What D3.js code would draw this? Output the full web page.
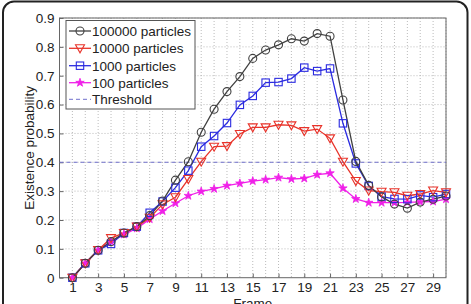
<!DOCTYPE html>
<html><head><meta charset="utf-8">
<script src="https://cdn.jsdelivr.net/npm/d3@7"></script>
<style>body{margin:0;background:#fff}svg{display:block;font-family:Arial,"Liberation Sans",sans-serif}</style>
</head><body><svg id="c" width="471" height="304"></svg>
<script>
const frames = d3.range(1, 31);
const p100000 = [0,0.05,0.095,0.125,0.155,0.177,0.215,0.266,0.338,0.402,0.504,0.584,0.645,0.697,0.760,0.789,0.807,0.828,0.820,0.846,0.837,0.616,0.403,0.320,0.280,0.255,0.241,0.262,0.272,0.283];
const p10000  = [0,0.05,0.096,0.137,0.155,0.177,0.208,0.254,0.279,0.342,0.402,0.454,0.456,0.498,0.521,0.521,0.530,0.528,0.508,0.515,0.483,0.402,0.335,0.302,0.298,0.296,0.284,0.290,0.302,0.296];
const p1000   = [0,0.05,0.095,0.117,0.155,0.177,0.225,0.264,0.312,0.371,0.454,0.491,0.536,0.599,0.630,0.676,0.678,0.690,0.728,0.716,0.725,0.535,0.396,0.318,0.281,0.273,0.272,0.285,0.279,0.290];
const p100    = [0,0.05,0.095,0.125,0.150,0.171,0.203,0.231,0.258,0.284,0.299,0.308,0.319,0.327,0.335,0.340,0.347,0.342,0.344,0.357,0.362,0.310,0.273,0.260,0.260,0.260,0.261,0.263,0.264,0.272];
const threshold = 0.4;
const seriesNames = ["100000 particles","10000 particles","1000 particles","100 particles"];
const xTicks = d3.range(1, 30, 2);
const yTicks = d3.range(0, 0.91, 0.1);

const svg = d3.select("#c");
const L = 59.5, R = 446, T = 18, B = 277.7;
const x = d3.scaleLinear().domain([0, 30]).range([L, R]);
const y = d3.scaleLinear().domain([0, 0.9]).range([B, T]);

svg.append("rect").attr("x",3).attr("y",1.5).attr("width",464.5).attr("height",320).attr("rx",11)
  .attr("fill","#fff").attr("stroke","#222").attr("stroke-width",2);

// grid
const g = svg.append("g");
g.selectAll(".vg").data(frames).enter().append("line")
  .attr("x1",d=>x(d)).attr("x2",d=>x(d)).attr("y1",T).attr("y2",B)
  .attr("stroke","#aaa").attr("stroke-width",0.8).attr("stroke-dasharray","1,2");
g.selectAll(".hg").data(yTicks.slice(1)).enter().append("line")
  .attr("x1",L).attr("x2",R).attr("y1",d=>y(d)).attr("y2",d=>y(d))
  .attr("stroke","#aaa").attr("stroke-width",0.8).attr("stroke-dasharray","1,2");

// axes
const xa = svg.append("g").attr("transform",`translate(0,${B})`)
  .call(d3.axisBottom(x).tickValues(xTicks).tickSize(-4).tickPadding(5).tickFormat(d3.format("d")));
const ya = svg.append("g").attr("transform",`translate(${L},0)`)
  .call(d3.axisLeft(y).tickValues(yTicks).tickSize(-4).tickPadding(5).tickFormat(d=>d===0?"0":d3.format(".1f")(d)));
[xa, ya].forEach(a=>{
  a.select(".domain").remove();
  a.selectAll("line").attr("stroke","#666");
  a.selectAll("text").attr("font-size",13.5).attr("fill","#222").attr("font-family","Arial,'Liberation Sans',sans-serif");
});
svg.append("rect").attr("x",L).attr("y",T).attr("width",R-L).attr("height",B-T)
  .attr("fill","none").attr("stroke","#666").attr("stroke-width",1);

svg.append("text").attr("transform",`translate(34,${(T+B)/2}) rotate(-90)`).attr("text-anchor","middle")
  .attr("font-size",13.5).attr("fill","#222").text("Existence probability");
svg.append("text").attr("x",(L+R)/2).attr("y",307.5).attr("text-anchor","middle")
  .attr("font-size",13.5).attr("fill","#222").text("Frame");

// threshold
svg.append("line").attr("x1",L).attr("x2",R).attr("y1",y(threshold)).attr("y2",y(threshold))
  .attr("stroke","#7070cc").attr("stroke-width",1).attr("stroke-dasharray","4,3");

const series = [
  {name:seriesNames[0], vals:p100000, color:"#404040", marker:"circle"},
  {name:seriesNames[1], vals:p10000, color:"#e8332a", marker:"tri"},
  {name:seriesNames[2], vals:p1000, color:"#2a2ae0", marker:"square"},
  {name:seriesNames[3], vals:p100, color:"#f020e8", marker:"star"}
];
const line = d3.line().x((d,i)=>x(frames[i])).y(d=>y(d));
function drawMarker(sel, s){
  if(s.marker==="circle") sel.append("circle").attr("r",4).attr("fill","none").attr("stroke",s.color).attr("stroke-width",1.1);
  else if(s.marker==="tri") sel.append("path").attr("d","M-4.5,-3.5L4.5,-3.5L0,4.5Z").attr("fill","none").attr("stroke",s.color).attr("stroke-width",1.1);
  else if(s.marker==="square") sel.append("rect").attr("x",-3.7).attr("y",-3.7).attr("width",7.4).attr("height",7.4).attr("fill","none").attr("stroke",s.color).attr("stroke-width",1.1);
  else sel.append("path").attr("d",d3.symbol(d3.symbolStar,22)()).attr("fill",s.color).attr("stroke",s.color).attr("stroke-width",0.8);
}
series.slice().reverse().forEach(s=>{
  svg.append("path").datum(s.vals).attr("d",line).attr("fill","none").attr("stroke",s.color).attr("stroke-width",1.3);
});
series.slice().reverse().forEach(s=>{
  s.vals.forEach((v,i)=>{
    const m = svg.append("g").attr("transform",`translate(${x(frames[i])},${y(v)})`);
    drawMarker(m, s);
  });
});

// legend
const lg = svg.append("g");
lg.append("rect").attr("x",66).attr("y",20.5).attr("width",129).attr("height",88.5).attr("fill","#fff").attr("stroke","#555").attr("stroke-width",1);
const rows = [31,48.3,65.7,82.7,99.3];
series.forEach((s,i)=>{
  lg.append("line").attr("x1",69).attr("x2",91).attr("y1",rows[i]).attr("y2",rows[i]).attr("stroke",s.color).attr("stroke-width",1.3);
  drawMarker(lg.append("g").attr("transform",`translate(80,${rows[i]})`), s);
  lg.append("text").attr("x",92).attr("y",rows[i]+4.8).attr("font-size",13.5).attr("fill","#222").text(s.name);
});
lg.append("line").attr("x1",69).attr("x2",91).attr("y1",rows[4]).attr("y2",rows[4]).attr("stroke","#7070cc").attr("stroke-width",1).attr("stroke-dasharray","4,3");
lg.append("text").attr("x",92).attr("y",rows[4]+4.8).attr("font-size",13.5).attr("fill","#222").text("Threshold");
</script></body></html>
